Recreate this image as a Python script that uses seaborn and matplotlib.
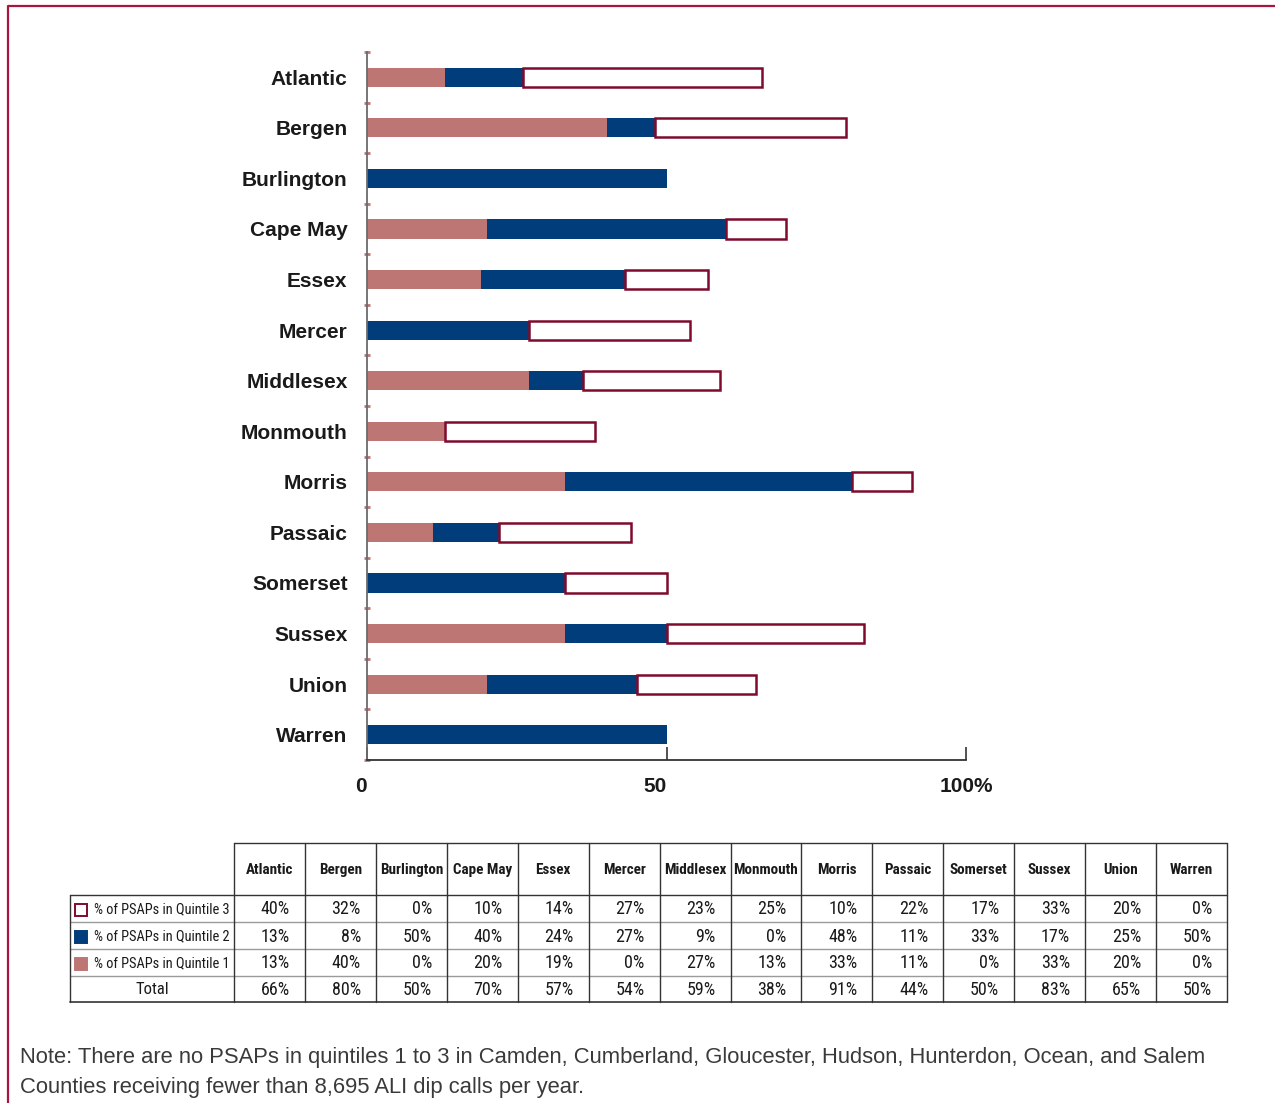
import numpy as np
import pandas as pd
import matplotlib
matplotlib.use("Agg")
import matplotlib.pyplot as plt
import seaborn as sns
from matplotlib import font_manager as fm
from matplotlib.patches import Rectangle
from matplotlib.ticker import FixedLocator

# ---- data -------------------------------------------------------------
counties = ["Atlantic", "Bergen", "Burlington", "Cape May", "Essex", "Mercer",
            "Middlesex", "Monmouth", "Morris", "Passaic", "Somerset", "Sussex",
            "Union", "Warren"]
quintile1 = [13, 40, 0, 20, 19, 0, 27, 13, 33, 11, 0, 33, 20, 0]
quintile2 = [13, 8, 50, 40, 24, 27, 9, 0, 48, 11, 33, 17, 25, 50]
quintile3 = [40, 32, 0, 10, 14, 27, 23, 25, 10, 22, 17, 33, 20, 0]
totals = [66, 80, 50, 70, 57, 54, 59, 38, 91, 44, 50, 83, 65, 50]

row_labels = ["% of PSAPs in Quintile 3", "% of PSAPs in Quintile 2",
              "% of PSAPs in Quintile 1", "Total"]
x_ticks = [0, 50, 100]
x_tick_labels = ["0", "50", "100%"]
note_lines = [
    "Note: There are no PSAPs in quintiles 1 to 3 in Camden, Cumberland, Gloucester, Hudson, Hunterdon, Ocean, and Salem",
    "Counties receiving fewer than 8,695 ALI dip calls per year.",
]

# ---- style ------------------------------------------------------------
PINK = "#BE7674"
NAVY = "#023D7B"
OUTLINE = "#7F0A2C"
FRAME = "#A8163F"
TEXT = "#1A1A1A"

sns.set_style("white")
plt.rcParams["font.family"] = ["Liberation Sans", "DejaVu Sans"]


def narrow_family():
    """A condensed sans family for the table, if one is installed."""
    names = {f.name for f in fm.fontManager.ttflist}
    for cand in ["Liberation Sans Narrow", "Roboto Condensed", "Arial Narrow",
                 "Open Sans Condensed", "Noto Sans Condensed"]:
        if cand in names:
            return [cand, "DejaVu Sans"]
    return ["Liberation Sans", "DejaVu Sans"]


TABLE_FONT = narrow_family()

df = pd.DataFrame({"county": counties, "q1": quintile1,
                   "q2": quintile2, "q3": quintile3})
df["start2"] = df["q1"]
df["start3"] = df["q1"] + df["q2"]

W, H = 1275, 1103
fig = plt.figure(figsize=(W / 100, H / 100), dpi=100)

# overlay canvas in pixel units for the frame, the data table and the note
ov = fig.add_axes([0, 0, 1, 1], zorder=-1)
ov.set_xlim(0, W)
ov.set_ylim(H, 0)
ov.axis("off")

ax = fig.add_axes([367 / W, 1 - 760 / H, 599 / W, 708 / H])

BAR_W = 0.38


def stacked_segment(col, start, **kw):
    n0 = len(ax.patches)
    sns.barplot(data=df, x=col, y="county", orient="h", width=BAR_W,
                saturation=1, ax=ax, **kw)
    new = ax.patches[n0:]
    starts = df[start] if start else [0] * len(df)
    for p, s, v in zip(new, starts, df[col]):
        p.set_x(s)
        if v == 0:
            p.set_visible(False)
    return new


stacked_segment("q1", None, color=PINK, linewidth=0)
stacked_segment("q2", "start2", color=NAVY, linewidth=0)
stacked_segment("q3", "start3", color="white", edgecolor=OUTLINE, linewidth=1.8)

ax.set_xlim(0, 100)
ax.set_ylim(len(counties) - 0.5, -0.5)
ax.set_xlabel("")
ax.set_ylabel("")

for side in ("top", "right"):
    ax.spines[side].set_visible(False)
ax.spines["left"].set_color("#6B6B6B")
ax.spines["left"].set_linewidth(1.3)
ax.spines["bottom"].set_color("#333333")
ax.spines["bottom"].set_linewidth(1.3)

ax.tick_params(axis="y", which="major", left=True, length=0, pad=14,
               labelsize=15, labelcolor=TEXT)
ax.yaxis.set_minor_locator(FixedLocator(np.arange(-0.5, len(counties) + 0.5)))
ax.tick_params(axis="y", which="minor", left=True, length=4, width=2,
               color=PINK, direction="inout")
for lab in ax.get_yticklabels():
    lab.set_fontweight("bold")

ax.set_xticks(x_ticks)
ax.set_xticklabels(x_tick_labels)
ax.tick_params(axis="x", bottom=True, direction="in", length=9.5, width=1.2,
               color="#333333", pad=12, labelsize=15, labelcolor=TEXT)
for lab, ha in zip(ax.get_xticklabels(), ["right", "right", "center"]):
    lab.set_fontweight("bold")
    lab.set_ha(ha)

# ---- frame ------------------------------------------------------------
ov.plot([8, 8, W], [H, 6, 6], color=FRAME, lw=1.6, solid_capstyle="butt")

# ---- data table -------------------------------------------------------
left_edge = 70
first_col = 234
last_col = 1227
ncol = len(counties)
col_edges = [first_col + i * (last_col - first_col) / ncol for i in range(ncol + 1)]
row_edges = [843, 895, 922, 949, 976, 1002]
DARK = "#333333"
GRAY = "#9A9A9A"

ov.plot([first_col, last_col], [row_edges[0]] * 2, color=DARK, lw=1)
ov.plot([left_edge, last_col], [row_edges[1]] * 2, color=DARK, lw=1)
for y in row_edges[2:5]:
    ov.plot([left_edge, last_col], [y, y], color=GRAY, lw=1)
ov.plot([left_edge, last_col], [row_edges[5]] * 2, color=DARK, lw=1.2)
ov.plot([left_edge, left_edge], [row_edges[1], row_edges[5]], color=DARK, lw=1)
for x in col_edges:
    ov.plot([x, x], [row_edges[0], row_edges[5]], color=DARK, lw=1)

renderer = fig.canvas.get_renderer()


def fit_group(texts, max_px, size):
    """Shrink a group of texts to one common size so the widest fits."""
    widest = max(t.get_window_extent(renderer).width for t in texts)
    if widest > max_px:
        size = size * max_px / widest
    for t in texts:
        t.set_fontsize(size)


headers = []
for i, name in enumerate(counties):
    cx = (col_edges[i] + col_edges[i + 1]) / 2
    headers.append(ov.text(cx, (row_edges[0] + row_edges[1]) / 2 + 1, name,
                           ha="center", va="center", fontsize=12,
                           fontweight="bold", family=TABLE_FONT, color=TEXT))
fit_group(headers, (col_edges[1] - col_edges[0]) - 6, 12)

table_rows = [quintile3, quintile2, quintile1, totals]
swatches = [("white", OUTLINE), (NAVY, NAVY), (PINK, PINK)]
legend_texts = []
for r, (label, values) in enumerate(zip(row_labels, table_rows)):
    cy = (row_edges[r + 1] + row_edges[r + 2]) / 2 + 1
    if r < 3:
        face, edge = swatches[r]
        ov.add_patch(Rectangle((75, cy - 6), 12, 12, facecolor=face,
                               edgecolor=edge, lw=1.4))
        legend_texts.append(ov.text(94, cy, label, ha="left", va="center",
                                    fontsize=12, family=TABLE_FONT, color=TEXT))
    else:
        ov.text((left_edge + first_col) / 2, cy, label, ha="center",
                va="center", fontsize=12, family=TABLE_FONT, color=TEXT)
    for i, v in enumerate(values):
        ov.text(col_edges[i + 1] - 15, cy, f"{v}%", ha="right", va="center",
                fontsize=13, family=TABLE_FONT, color=TEXT)
fit_group(legend_texts, first_col - 94 - 3, 12)

# ---- note -------------------------------------------------------------
for k, line in enumerate(note_lines):
    ov.text(20, 1057 + 30 * k, line, ha="left", va="center", fontsize=15.8,
            color="#3A3A3A")

fig.savefig("out.png", dpi=100)
